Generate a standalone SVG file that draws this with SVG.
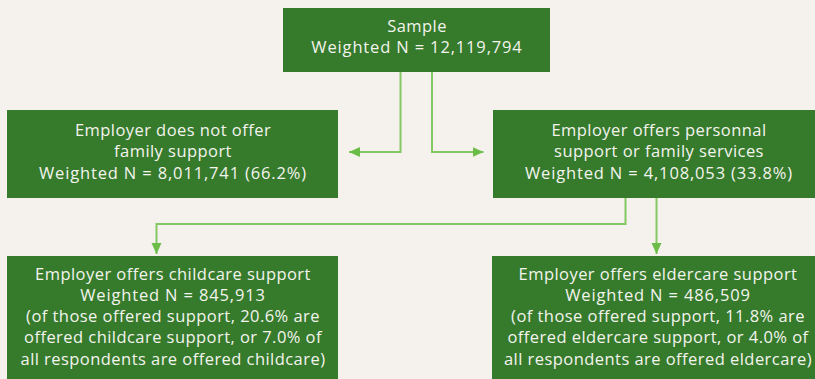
<svg xmlns="http://www.w3.org/2000/svg" width="815" height="379" viewBox="0 0 815 379">
<defs>
<style>
.box{fill:#367a2c;}
.t{font-family:"Open Sans","Noto Sans","DejaVu Sans",sans-serif;font-size:16.5px;letter-spacing:0.45px;fill:#f4f4ee;text-anchor:middle;}
.n{letter-spacing:0.85px;}
.c{fill:none;stroke:#84c862;stroke-width:2;}
</style>
<marker id="ah" markerUnits="userSpaceOnUse" markerWidth="12" markerHeight="11" refX="11" refY="5" orient="auto" viewBox="0 0 12 10">
<path d="M0,0 L11,5 L0,10 z" fill="#6cbd48"/>
</marker>
</defs>
<rect width="815" height="379" fill="#f5f2ed"/>
<g id="connectors">
<path class="c" d="M400.5,72 V152 H349" marker-end="url(#ah)"/>
<path class="c" d="M432,72 V152 H483.5" marker-end="url(#ah)"/>
<path class="c" d="M625.5,198 V224 H156.5 V254" marker-end="url(#ah)"/>
<path class="c" d="M656.5,198 V254" marker-end="url(#ah)"/>
</g>
<g id="sample">
<rect class="box" x="283" y="8" width="267" height="64"/>
<text class="t" x="417" y="31.5">Sample</text>
<text class="t n" x="417" y="53">Weighted N = 12,119,794</text>
</g>
<g id="no-support">
<rect class="box" x="7" y="110" width="331" height="88"/>
<text class="t" x="173" y="135.5">Employer does not offer</text>
<text class="t" x="173" y="157">family support</text>
<text class="t n" x="173" y="178.5">Weighted N = 8,011,741 (66.2%)</text>
</g>
<g id="offers-support">
<rect class="box" x="493" y="110" width="331" height="88"/>
<text class="t" x="659" y="135.5">Employer offers personnal</text>
<text class="t" x="659" y="157">support or family services</text>
<text class="t n" x="659" y="178.5">Weighted N = 4,108,053 (33.8%)</text>
</g>
<g id="childcare">
<rect class="box" x="7" y="256" width="331" height="123"/>
<text class="t" x="173" y="279.5">Employer offers childcare support</text>
<text class="t n" x="173" y="300.8">Weighted N = 845,913</text>
<text class="t" x="173" y="322">(of those offered support, 20.6% are</text>
<text class="t" x="173" y="343.3">offered childcare support, or 7.0% of</text>
<text class="t" x="173" y="364.5">all respondents are offered childcare)</text>
</g>
<g id="eldercare">
<rect class="box" x="492" y="256" width="331" height="123"/>
<text class="t" x="658" y="279.5">Employer offers eldercare support</text>
<text class="t n" x="658" y="300.8">Weighted N = 486,509</text>
<text class="t" x="658" y="322">(of those offered support, 11.8% are</text>
<text class="t" x="658" y="343.3">offered eldercare support, or 4.0% of</text>
<text class="t" x="658" y="364.5">all respondents are offered eldercare)</text>
</g>
</svg>
